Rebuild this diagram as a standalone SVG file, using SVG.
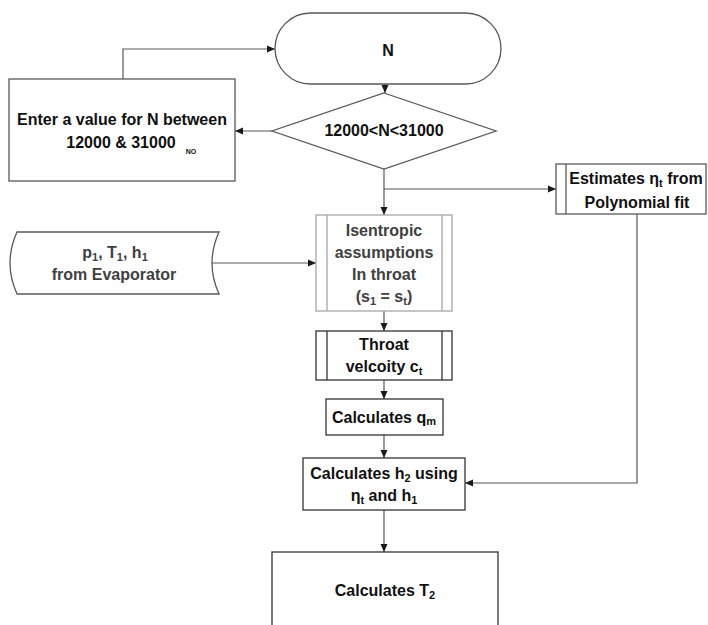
<svg xmlns="http://www.w3.org/2000/svg" width="708" height="625" viewBox="0 0 708 625">
  <defs>
    <marker id="arrow" viewBox="0 0 8 8" refX="8" refY="4" markerWidth="8" markerHeight="8" markerUnits="userSpaceOnUse" orient="auto">
      <path d="M0,0.5 L8,4 L0,7.5 Z" fill="#1a1a1a"/>
    </marker>
    <style>
      .box { fill: #ffffff; stroke: #595959; stroke-width: 1.3; }
      .soft { fill: #ffffff; stroke: #a6a6a6; stroke-width: 1.3; }
      .inner { stroke: #595959; stroke-width: 1.3; fill: none; }
      .inner-soft { stroke: #a6a6a6; stroke-width: 1.3; fill: none; }
      .edge { fill: none; stroke: #595959; stroke-width: 1.2; }
      .lbl { font-family: "Liberation Sans", Arial, sans-serif; font-weight: bold; font-size: 16px; fill: #111111; text-anchor: middle; }
      .dim { fill: #404040; }
      .sub { font-size: 11px; }
    </style>
  </defs>

  <!-- connectors -->
  <g id="connectors">
    <path class="edge" d="M385,84 L385,93" marker-end="url(#arrow)"/>
    <path class="edge" d="M272,131 L235,131" marker-end="url(#arrow)"/>
    <path class="edge" d="M123,79 L123,49 L275,49" marker-end="url(#arrow)"/>
    <path class="edge" d="M384,169 L384,215" marker-end="url(#arrow)"/>
    <path class="edge" d="M384,189 L556,189" marker-end="url(#arrow)"/>
    <path class="edge" d="M212,263 L316,263" marker-end="url(#arrow)"/>
    <path class="edge" d="M384,311 L384,331" marker-end="url(#arrow)"/>
    <path class="edge" d="M384,380 L384,399" marker-end="url(#arrow)"/>
    <path class="edge" d="M384,435 L384,458" marker-end="url(#arrow)"/>
    <path class="edge" d="M637,214 L637,483 L465,483" marker-end="url(#arrow)"/>
    <path class="edge" d="M384,510 L384,552" marker-end="url(#arrow)"/>
  </g>

  <!-- start terminal -->
  <g id="start">
    <rect class="box" x="275" y="13" width="226" height="71" rx="35.5" ry="35.5"/>
    <text class="lbl" x="388" y="56">N</text>
  </g>

  <!-- out of range prompt -->
  <g id="enter-value">
    <rect class="box" x="9" y="79" width="226" height="102"/>
    <text class="lbl" x="122" y="125">Enter a value for N between</text>
    <text class="lbl" x="121" y="148">12000 &amp; 31000</text>
    <text class="lbl" x="191" y="154" style="font-size:7px">NO</text>
  </g>

  <!-- range check -->
  <g id="range-check">
    <polygon class="box" points="384,93 496,131 384,169 272,131"/>
    <text class="lbl" x="384" y="136">12000&lt;N&lt;31000</text>
  </g>

  <!-- efficiency estimate -->
  <g id="estimate-eta">
    <rect class="box" x="556" y="164" width="150" height="50"/>
    <line class="inner" x1="566" y1="164" x2="566" y2="214"/>
    <text class="lbl" x="636" y="184">Estimates η<tspan class="sub" dy="3">t</tspan><tspan dy="-3"> from</tspan></text>
    <text class="lbl" x="637" y="208">Polynomial fit</text>
  </g>

  <!-- evaporator input data -->
  <g id="evaporator-data">
    <path class="box" d="M17,232 L219,232 Q205,263 219,294 L17,294 Q3,263 17,232 Z"/>
    <text class="lbl dim" x="115" y="258">p<tspan class="sub" dy="3">1</tspan><tspan dy="-3">, T</tspan><tspan class="sub" dy="3">1</tspan><tspan dy="-3">, h</tspan><tspan class="sub" dy="3">1</tspan></text>
    <text class="lbl dim" x="114" y="280">from Evaporator</text>
  </g>

  <!-- isentropic step -->
  <g id="isentropic">
    <rect class="soft" x="316" y="215" width="136" height="96"/>
    <line class="inner-soft" x1="327" y1="215" x2="327" y2="311"/>
    <line class="inner-soft" x1="442" y1="215" x2="442" y2="311"/>
    <text class="lbl dim" x="384" y="236">Isentropic</text>
    <text class="lbl dim" x="384" y="258">assumptions</text>
    <text class="lbl dim" x="384" y="280">In throat</text>
    <text class="lbl dim" x="384" y="302">(s<tspan class="sub" dy="3">1</tspan><tspan dy="-3"> = s</tspan><tspan class="sub" dy="3">t</tspan><tspan dy="-3">)</tspan></text>
  </g>

  <!-- throat velocity -->
  <g id="throat-velocity">
    <rect class="box" x="316" y="331" width="136" height="49" style="stroke:#333333"/>
    <line class="inner" x1="327" y1="331" x2="327" y2="380" style="stroke:#333333"/>
    <line class="inner" x1="442" y1="331" x2="442" y2="380" style="stroke:#333333"/>
    <text class="lbl" x="384" y="350">Throat</text>
    <text class="lbl" x="384" y="372">velcoity c<tspan class="sub" dy="3">t</tspan></text>
  </g>

  <!-- mass flow -->
  <g id="mass-flow">
    <rect class="box" x="326" y="399" width="117" height="36" style="stroke:#333333"/>
    <text class="lbl" x="384" y="423">Calculates q<tspan class="sub" dy="2">m</tspan></text>
  </g>

  <!-- outlet enthalpy -->
  <g id="outlet-enthalpy">
    <rect class="box" x="303" y="458" width="162" height="52" style="stroke:#333333"/>
    <text class="lbl" x="384" y="479">Calculates h<tspan class="sub" dy="3">2</tspan><tspan dy="-3"> using</tspan></text>
    <text class="lbl" x="384" y="501">η<tspan class="sub" dy="3">t</tspan><tspan dy="-3"> and h</tspan><tspan class="sub" dy="3">1</tspan></text>
  </g>

  <!-- outlet temperature -->
  <g id="outlet-temperature">
    <rect class="box" x="272" y="552" width="226" height="80" style="stroke:#333333"/>
    <text class="lbl" x="385" y="596">Calculates T<tspan class="sub" dy="3">2</tspan></text>
  </g>
</svg>
